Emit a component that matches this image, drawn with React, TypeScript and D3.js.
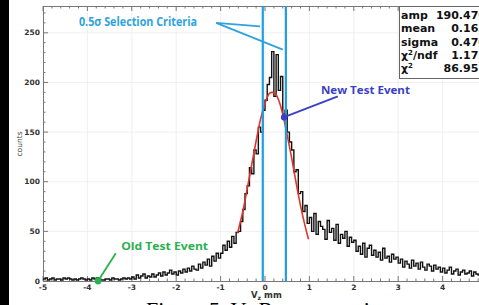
import * as d3 from 'd3';
import { useEffect, useRef } from 'react';

// histogram: 0.05 mm bins starting at -5
const binStart = -5;
const binWidth = 0.05;
const countsLeft = [
  2, 3, 1, 2, 3, 1, 2, 2, 1, 3, 2, 3, 2, 1, 2, 1, 2, 3, 2, 1,
  2, 1, 3, 2, 3, 2, 1, 1, 2, 2, 1, 3, 2, 2, 1, 2, 3, 2, 3, 2,
  4, 2, 6, 3, 5, 7, 3, 5, 4, 7, 4, 6, 8, 5, 9, 6, 8, 11, 7, 9,
  6, 10, 8, 12, 9, 13, 10, 15, 12, 11, 17, 13, 19, 16, 22, 15, 25, 20, 28, 23,
];
const countsPeak = [
  28, 36, 31, 40, 34, 45, 38, 49, 50, 60, 72, 88, 96, 114, 108, 132, 128, 155, 150, 172,
  182, 198, 205, 231, 186, 228, 192, 206, 168, 172, 150, 140, 132, 110, 112, 88, 90, 70, 76, 58,
];
const countsRight = [
  64, 50, 68, 47, 60, 55, 52, 42, 61, 49, 53, 41, 57, 38, 47, 43, 50, 35, 44, 39,
  41, 30, 35, 27, 38, 24, 33, 36, 26, 31, 24, 29, 21, 33, 23, 25, 19, 27, 22, 24,
  18, 22, 14, 20, 17, 13, 21, 15, 18, 12, 19, 14, 11, 17, 15, 10, 16, 12, 14, 9,
  13, 8, 11, 14, 7, 10, 12, 6, 9, 11, 7, 8, 10, 5, 9, 7, 6, 9, 5, 7,
];
const counts = [...countsLeft, ...countsPeak, ...countsRight];

// gaussian fit
const fitVz = [-0.62, -0.5, -0.4, -0.3, -0.2, -0.1, 0, 0.1, 0.16, 0.2, 0.3, 0.4, 0.5, 0.6, 0.7, 0.8, 0.9, 0.98];
const fitCounts = [48, 70, 93, 117, 141, 163, 179, 189, 190, 190, 183, 168, 147, 124, 99, 76, 56, 42];

const xTicks = [-5, -4, -3, -2, -1, 0, 1, 2, 3, 4, 5];
const yTicks = [0, 50, 100, 150, 200, 250];
const cutLines = [-0.05, 0.47];

const statNames = ['amp', 'mean', 'sigma', 'χ2/ndf', 'χ2'];
const statValues = ['190.476', '0.163', '0.470', '1.175', '86.951'];

const oldEvent = { vz: -3.76, count: 0 };
const newEvent = { vz: 0.43, count: 165 };

function App() {
  const ref = useRef<SVGSVGElement>(null);
  const W = 479;
  const H = 305;
  const margin = { top: 6, left: 43, bottom: 281 };

  useEffect(() => {
    const svg = d3.select(ref.current);
    svg.selectAll('*').remove();

    const x = d3.scaleLinear().domain([-5, 5]).range([margin.left, 487]);
    const y = d3.scaleLinear().domain([0, 277]).range([margin.bottom, margin.top]);

    svg.append('rect').attr('width', W).attr('height', H).attr('fill', '#fff');
    // dark strip on the left edge of the scan
    svg.append('rect').attr('width', 9).attr('height', H).attr('fill', '#000');

    svg
      .append('clipPath')
      .attr('id', 'plot')
      .append('rect')
      .attr('x', margin.left)
      .attr('y', margin.top)
      .attr('width', W - margin.left)
      .attr('height', margin.bottom - margin.top);

    // grid
    const grid = svg.append('g').attr('stroke', '#ececec').attr('stroke-width', 0.8);
    xTicks.slice(1).forEach((t) => {
      grid.append('line').attr('x1', x(t)).attr('x2', x(t)).attr('y1', margin.top).attr('y2', margin.bottom);
    });
    yTicks.slice(1).forEach((t) => {
      grid.append('line').attr('x1', margin.left).attr('x2', W).attr('y1', y(t)).attr('y2', y(t));
    });

    // frame + ticks
    const axis = svg.append('g').attr('stroke', '#777').attr('stroke-width', 1);
    axis.append('line').attr('x1', margin.left).attr('x2', W).attr('y1', margin.top + 0.5).attr('y2', margin.top + 0.5);
    axis.append('line').attr('x1', margin.left + 0.5).attr('x2', margin.left + 0.5).attr('y1', margin.top).attr('y2', margin.bottom);
    axis.append('line').attr('x1', margin.left).attr('x2', W).attr('y1', margin.bottom + 0.5).attr('y2', margin.bottom + 0.5);
    d3.range(0, 271, 10).forEach((t) => {
      const len = t % 50 === 0 ? 5 : 2.5;
      axis.append('line').attr('x1', margin.left).attr('x2', margin.left + len).attr('y1', y(t)).attr('y2', y(t));
    });
    d3.range(-50, 50, 2).forEach((k) => {
      const t = k / 10;
      const len = k % 10 === 0 ? 5 : 2.5;
      axis.append('line').attr('x1', x(t)).attr('x2', x(t)).attr('y1', margin.bottom).attr('y2', margin.bottom - len);
      axis.append('line').attr('x1', x(t)).attr('x2', x(t)).attr('y1', margin.top).attr('y2', margin.top + len);
    });

    const lab = svg
      .append('g')
      .attr('font-family', 'DejaVu Sans')
      .attr('font-weight', 'bold')
      .attr('font-size', 7.5)
      .attr('fill', '#333');
    yTicks.forEach((t) => {
      lab.append('text').attr('x', margin.left - 3).attr('y', y(t) + 2.6).attr('text-anchor', 'end').text(t);
    });
    xTicks.forEach((t) => {
      lab.append('text').attr('x', x(t)).attr('y', margin.bottom + 9).attr('text-anchor', 'middle').text(t);
    });

    const xt = lab.append('text').attr('x', x(0) - 14).attr('y', 298).attr('font-size', 8.5);
    xt.append('tspan').text('V');
    xt.append('tspan').attr('font-size', 6).attr('dy', 2).text('z');
    xt.append('tspan').attr('dy', -2).text(' mm');

    svg
      .append('text')
      .attr('transform', `translate(22,${y(138)}) rotate(-90)`)
      .attr('text-anchor', 'middle')
      .attr('font-family', 'DejaVu Sans')
      .attr('font-size', 7.5)
      .attr('fill', '#444')
      .text('counts');

    // histogram
    const pts = counts.map((c, i) => [binStart + i * binWidth, c] as [number, number]);
    pts.push([binStart + counts.length * binWidth, counts[counts.length - 1]]);
    svg
      .append('path')
      .attr('clip-path', 'url(#plot)')
      .attr('d', d3.line().x((d) => x(d[0])).y((d) => y(d[1])).curve(d3.curveStepAfter)(pts))
      .attr('fill', 'none')
      .attr('stroke', '#111')
      .attr('stroke-width', 1.4);

    // fit
    const fit = fitVz.map((v, i) => [v, fitCounts[i]] as [number, number]);
    svg
      .append('path')
      .attr('d', d3.line().x((d) => x(d[0])).y((d) => y(d[1])).curve(d3.curveMonotoneX)(fit))
      .attr('fill', 'none')
      .attr('stroke', '#e0352b')
      .attr('stroke-width', 1.6);

    // selection cuts
    cutLines.forEach((c) => {
      svg
        .append('line')
        .attr('x1', x(c)).attr('x2', x(c))
        .attr('y1', margin.top).attr('y2', margin.bottom)
        .attr('stroke', '#1e9fe3')
        .attr('stroke-width', 2.2);
    });

    const blue = '#2ea3dc';
    svg
      .append('text')
      .attr('x', x(-4.19))
      .attr('y', y(257))
      .attr('font-family', 'Open Sans')
      .attr('font-weight', 'bold')
      .attr('font-size', 12)
      .attr('fill', blue)
      .attr('textLength', 118)
      .attr('lengthAdjust', 'spacingAndGlyphs')
      .text('0.5σ Selection Criteria');
    [[-0.11, 256.5], [0.4, 233]].forEach(([vx, vy]) => {
      svg
        .append('line')
        .attr('x1', x(-1.1)).attr('y1', y(260))
        .attr('x2', x(vx)).attr('y2', y(vy))
        .attr('stroke', blue)
        .attr('stroke-width', 1.8);
    });

    // new test event
    const indigo = '#3b3fc6';
    svg
      .append('line')
      .attr('x1', x(1.64)).attr('y1', y(186))
      .attr('x2', x(newEvent.vz)).attr('y2', y(newEvent.count))
      .attr('stroke', indigo)
      .attr('stroke-width', 1.8);
    svg.append('circle').attr('cx', x(newEvent.vz)).attr('cy', y(newEvent.count)).attr('r', 3.2).attr('fill', indigo);
    svg
      .append('text')
      .attr('x', x(1.26))
      .attr('y', y(188))
      .attr('font-family', 'Open Sans')
      .attr('font-weight', 'bold')
      .attr('font-size', 11)
      .attr('fill', indigo)
      .attr('textLength', 89)
      .attr('lengthAdjust', 'spacingAndGlyphs')
      .text('New Test Event');

    // old test event
    const green = '#2bb04f';
    svg
      .append('line')
      .attr('x1', x(-3.36)).attr('y1', y(28))
      .attr('x2', x(oldEvent.vz)).attr('y2', y(oldEvent.count))
      .attr('stroke', green)
      .attr('stroke-width', 1.8);
    svg.append('circle').attr('cx', x(oldEvent.vz)).attr('cy', y(oldEvent.count)).attr('r', 3.4).attr('fill', green);
    svg
      .append('text')
      .attr('x', x(-3.24))
      .attr('y', y(31))
      .attr('font-family', 'Open Sans')
      .attr('font-weight', 'bold')
      .attr('font-size', 11)
      .attr('fill', green)
      .attr('textLength', 87)
      .attr('lengthAdjust', 'spacingAndGlyphs')
      .text('Old Test Event');

    // stats box
    const box = svg.append('g');
    box
      .append('rect')
      .attr('x', 399.5).attr('y', margin.top + 0.5)
      .attr('width', 100).attr('height', 72)
      .attr('fill', '#fff')
      .attr('stroke', '#666');
    statNames.forEach((n, i) => {
      const yy = 19 + i * 13.3;
      const t = box
        .append('text')
        .attr('x', 401)
        .attr('y', yy)
        .attr('font-family', 'DejaVu Sans')
        .attr('font-weight', 'bold')
        .attr('font-size', 11)
        .attr('fill', '#111');
      const parts = n.split('2');
      t.append('tspan').text(parts[0]);
      if (parts.length > 1) {
        t.append('tspan').attr('font-size', 7).attr('dy', -4).text('2');
        t.append('tspan').attr('dy', 4).text(parts[1]);
      }
      box
        .append('text')
        .attr('x', 486)
        .attr('y', yy)
        .attr('text-anchor', 'end')
        .attr('font-family', 'DejaVu Sans')
        .attr('font-weight', 'bold')
        .attr('font-size', 11)
        .attr('fill', '#111')
        .text(statValues[i]);
    });

    // figure caption, mostly cut off by the bottom edge
    const cap = svg
      .append('text')
      .attr('x', 146)
      .attr('y', 317)
      .attr('font-family', 'Liberation Serif')
      .attr('font-size', 22)
      .attr('fill', '#000');
    cap.append('tspan').text('Figure 5. V');
    cap.append('tspan').attr('font-size', 15).attr('dy', 4).text('z');
    cap.append('tspan').attr('dy', -4).text(' Reconstruction');
  }, [margin.bottom, margin.left, margin.top]);

  return (
    <svg
      ref={ref}
      width={W}
      height={H}
      style={{ position: 'absolute', left: 0, top: 0, display: 'block' }}
    />
  );
}

export default App;
